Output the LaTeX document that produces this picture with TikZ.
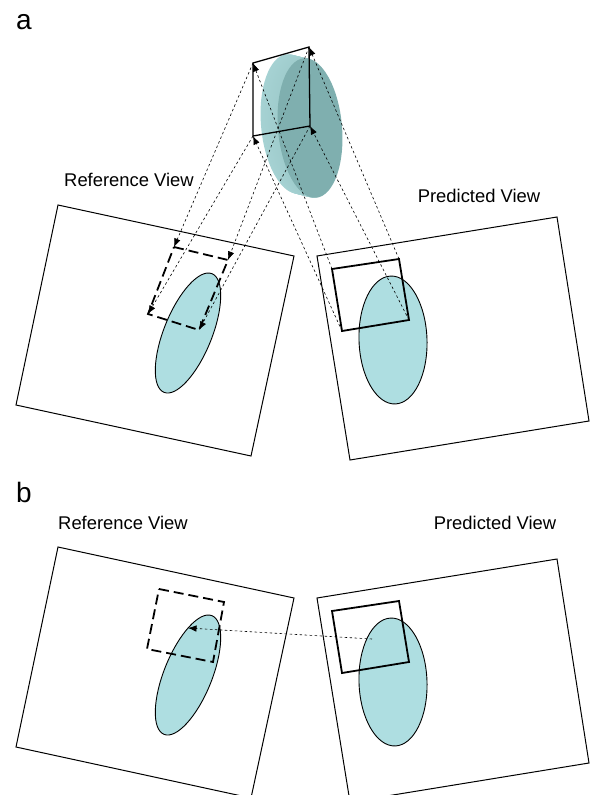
\documentclass[tikz,border=0pt]{standalone}
\usepackage{fontspec}
\setmainfont{Liberation Sans}
\usetikzlibrary{arrows.meta}
\definecolor{CellFill}{HTML}{AEDEE1}
\definecolor{DiscFront}{HTML}{7FAFAF}
\definecolor{DiscBack}{HTML}{A6D2D3}
\tikzset{
    frame/.style = {draw, line width=1pt},
    cell/.style = {draw, fill=CellFill, line width=0.9pt},
    predbox/.style = {draw, line width=1.8pt},
    refbox/.style = {draw, line width=1.8pt, dash pattern=on 10pt off 5pt},
    proj/.style = {draw, line width=0.6pt, dash pattern=on 2.5pt off 2.5pt,
        -{Latex[length=8.5pt,width=6.5pt]}},
    viewlabel/.style = {font=\fontsize{18.4}{20}\selectfont},
    panel/.style = {font=\fontsize{28}{30}\selectfont, anchor=base}
}

\begin{document}
\begin{tikzpicture}[x=1pt,y=-1pt]
    \clip (0,0) rectangle (598,795);
    % top panel: projecting the box through the disc
    \node[panel] (pa) at (24,29) {a};
    \node[viewlabel] (refa) at (129,180) {Reference View};
    \node[viewlabel] (preda) at (479,196) {Predicted View};
        \draw[frame] (58,205) -- (294,256) -- (251,456) -- (16,405) -- cycle;
        \draw[frame] (317,256) -- (557,217) -- (589,421) -- (350,460) -- cycle;
        \draw[cell, rotate around={-22:(188,333)}] (188,333) ellipse [x radius=24pt, y radius=64pt];
        \draw[cell, rotate around={2:(393,340)}] (393,340) ellipse [x radius=34pt, y radius=64pt];
    % the disc, back face to front face
    \foreach \i in {0,...,16}{
        \pgfmathsetmacro{\mix}{100-\i}
        \fill[DiscBack!\mix!DiscFront, rotate around={5:(293+\i,124+0.25*\i)}]
            (293+\i,124+0.25*\i) ellipse [x radius=32pt, y radius=70pt];
    }
    \fill[DiscFront, rotate around={5:(310,128)}] (310,128) ellipse [x radius=32pt, y radius=70pt];
    % box corners
    \coordinate (s1) at (253,63);
    \coordinate (s2) at (309,47);
    \coordinate (s3) at (310,126);
    \coordinate (s4) at (253,136);
    \coordinate (r1) at (174,247);
    \coordinate (r2) at (228,260);
    \coordinate (r3) at (199,330);
    \coordinate (r4) at (148,314);
    \coordinate (p1) at (332,269);
    \coordinate (p2) at (399,259);
    \coordinate (p3) at (409,320);
    \coordinate (p4) at (342,331);
        \draw[line width=1.3pt] (s1) -- (s2) -- (s3) -- (s4) -- cycle;
        \draw[refbox] (r1) -- (r2) -- (r3) -- (r4) -- cycle;
        \draw[predbox] (p1) -- (p2) -- (p3) -- (p4) -- cycle;
    \foreach \k in {1,...,4}{
        \draw[proj] (s\k) -- (r\k);
        \draw[proj] (p\k) -- (s\k);
    }
    % bottom panel: direct matching
    \node[panel] (pb) at (24,502) {b};
    \node[viewlabel] (refb) at (123,523) {Reference View};
    \node[viewlabel] (predb) at (495,523) {Predicted View};
    \begin{scope}[shift={(0,342)}]
        \draw[frame] (58,205) -- (294,256) -- (251,456) -- (16,405) -- cycle;
        \draw[frame] (317,256) -- (557,217) -- (589,421) -- (350,460) -- cycle;
        \draw[cell, rotate around={-22:(188,333)}] (188,333) ellipse [x radius=24pt, y radius=64pt];
        \draw[cell, rotate around={2:(393,340)}] (393,340) ellipse [x radius=34pt, y radius=64pt];
        \draw[refbox] (159,247) -- (224,260) -- (213,320) -- (147,307) -- cycle;
        \draw[predbox] (332,269) -- (399,259) -- (409,320) -- (342,331) -- cycle;
        \coordinate (q) at (372,297);
        \coordinate (m) at (188,286);
        \draw[proj] (q) -- (m);
    \end{scope}
\end{tikzpicture}
\end{document}
